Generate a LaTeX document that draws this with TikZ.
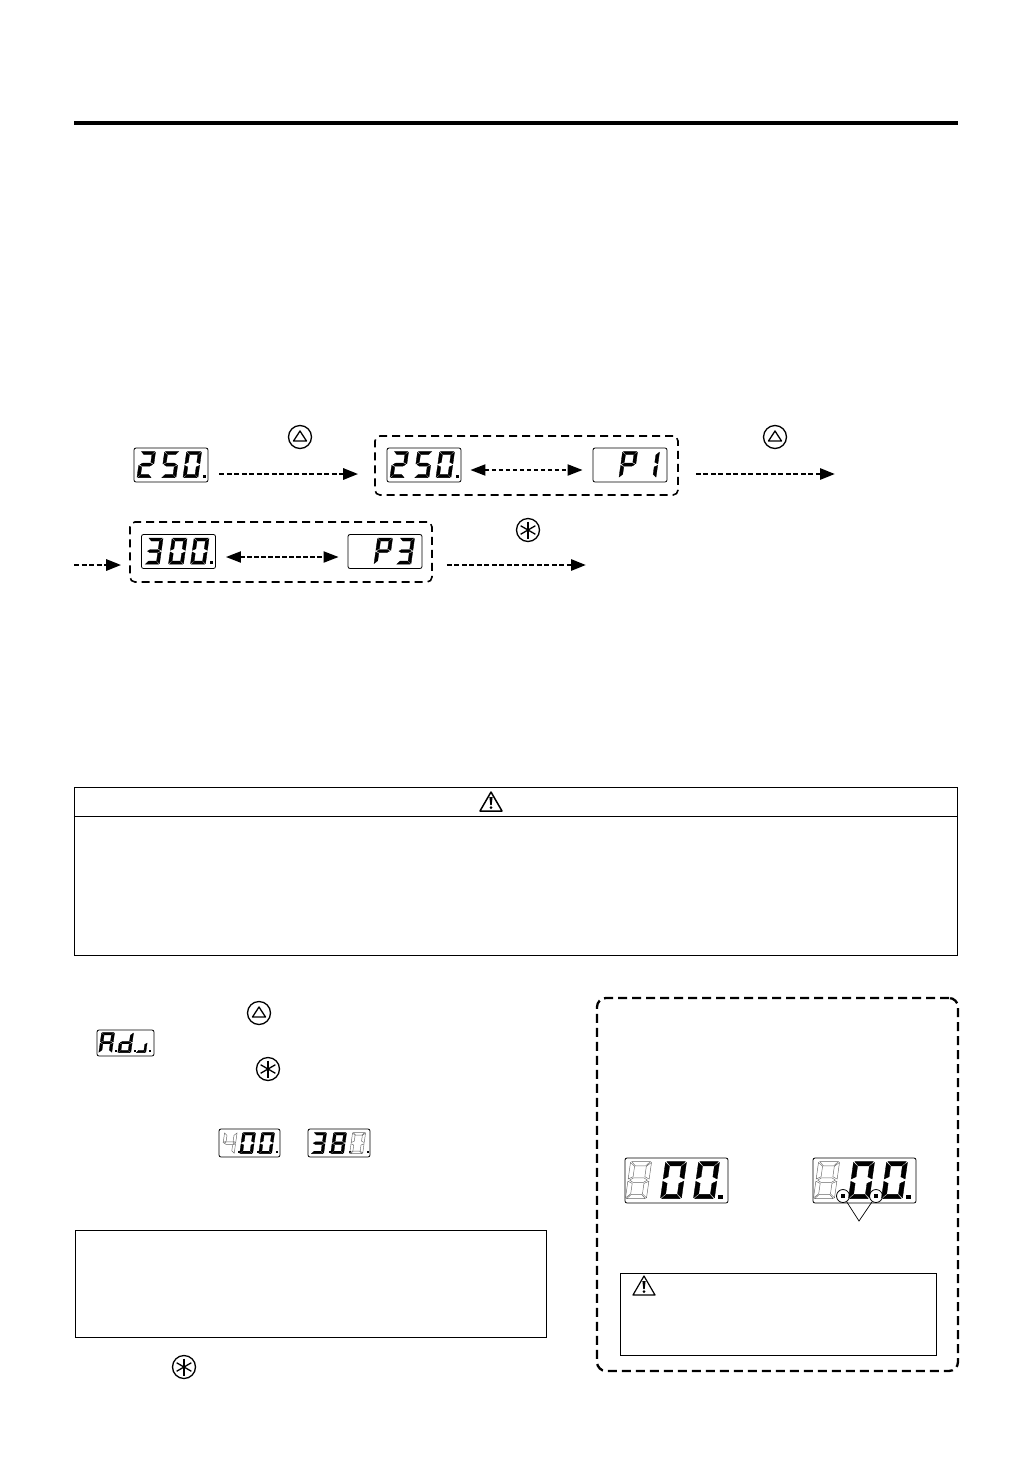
\documentclass[tikz,border=0pt]{standalone}
\usetikzlibrary{arrows.meta,positioning}
\newcommand{\lcdsegA}{(.06,0)--(.94,0)--(.75,.115)--(.25,.115)--cycle}
\newcommand{\lcdsegB}{(1,.02)--(1,.47)--(.78,.41)--(.78,.13)--cycle}
\newcommand{\lcdsegC}{(1,.53)--(1,.98)--(.78,.87)--(.78,.59)--cycle}
\newcommand{\lcdsegD}{(.06,1)--(.94,1)--(.75,.885)--(.25,.885)--cycle}
\newcommand{\lcdsegE}{(0,.53)--(0,.98)--(.22,.87)--(.22,.59)--cycle}
\newcommand{\lcdsegF}{(0,.02)--(0,.47)--(.22,.41)--(.22,.13)--cycle}
\newcommand{\lcdsegG}{(.08,.5)--(.25,.44)--(.75,.44)--(.92,.5)--(.75,.56)--(.25,.56)--cycle}
% node, dx, dy, w, h, lit segments, ghost segments
\newcommand{\lcddigit}[7]{
  \begin{scope}[shift={(#1.north west)},xshift=#2pt,yshift=-#3pt,x={(#4pt,0pt)},y={({-.14*#5pt},{-#5pt})}]
    \foreach \s in {#6} {\filldraw[black,line width=.3pt] \csname lcdseg\s\endcsname;}
    \foreach \s in {#7} {\draw[black!60,line width=.45pt] \csname lcdseg\s\endcsname;}
  \end{scope}
}
% node, dx, dy, size
\newcommand{\lcddot}[4]{
  \fill[black] ([xshift=#2pt,yshift=-#3pt]#1.north west) rectangle +(#4pt,-#4pt);
}
\newcommand{\btnup}[1]{
  \draw[line width=1.3pt,line join=round] ([shift={(0pt,6pt)}]#1.center) -- ([shift={(-6.5pt,-4pt)}]#1.center) -- ([shift={(6.5pt,-4pt)}]#1.center) -- cycle;
}
\newcommand{\btnstar}[1]{
  \foreach \a in {90,30,150} {
    \draw[line width=1.3pt] ([shift={(\a:8.5pt)}]#1.center) -- ([shift={(\a+180:8.5pt)}]#1.center);
  }
}
\newcommand{\warnsign}[2]{
  \draw[line width=#2,line join=round] ([shift={(0pt,10pt)}]#1.center) -- ([shift={(-11pt,-9pt)}]#1.center) -- ([shift={(11pt,-9pt)}]#1.center) -- cycle;
  \fill[black] ([shift={(-1.6pt,5pt)}]#1.center) -- ([shift={(1.6pt,5pt)}]#1.center) -- ([shift={(.7pt,-3pt)}]#1.center) -- ([shift={(-.7pt,-3pt)}]#1.center) -- cycle;
  \fill[black] ([shift={(0pt,-5.5pt)}]#1.center) circle (1.5pt);
}
\begin{document}
\begin{tikzpicture}[
    x=1pt,y=-1pt,
    lcd/.style={draw,line width=.8pt,rounded corners=2pt,inner sep=0pt,minimum width=74pt,minimum height=34pt},
    lcdwide/.style={lcd,minimum width=103pt,minimum height=45pt},
    btn/.style={draw,circle,line width=1.3pt,inner sep=0pt,minimum size=23pt},
    group/.style={draw,line width=1.6pt,dash pattern=on 8pt off 5pt,rounded corners=5pt,inner sep=0pt},
    panel/.style={draw,line width=.9pt,inner sep=0pt},
    flow/.style={-{Triangle[length=15pt,width=11pt]},line width=2.8pt,dash pattern=on 5pt off 2.5pt},
    swap/.style={{Triangle[length=15pt,width=11pt]}-{Triangle[length=15pt,width=11pt]},line width=2pt,dash pattern=on 4.5pt off 2.5pt},
    spot/.style={draw,circle,line width=.8pt,inner sep=0pt,minimum size=13pt},
    warn/.style={inner sep=0pt,minimum size=20pt}
  ]
  \useasboundingbox (0,0) rectangle (1032,1457);
  \fill[black] (74,121) rectangle (958,125);

  % first row
  \node[lcd] (lcdA) at (171,465) {};
  \node[group,minimum width=303pt,minimum height=59pt] (boxA) at (526.5,465.5) {};
  \node[lcd] (lcdB) at (424,465) {};
  \node[lcd] (lcdC) at (630,465) {};
  \node[btn] (btnA) at (300,437) {};
  \node[btn] (btnB) at (775,437) {};
  \btnup{btnA}
  \btnup{btnB}
  \coordinate (outA) at (835,474);
  \draw[flow] ([shift={(11pt,-9pt)}]lcdA.east) -- ([shift={(-16pt,-8.5pt)}]boxA.west);
  \draw[swap] ([shift={(9pt,-5pt)}]lcdB.east) -- ([shift={(-10pt,-5pt)}]lcdC.west);
  \draw[flow] ([shift={(17pt,-8.5pt)}]boxA.east) -- (outA);
  \foreach \n in {lcdA,lcdB} {
    \lcddigit{\n}{7}{4}{15}{26}{A,B,G,E,D}{}
    \lcddigit{\n}{31}{4}{15}{26}{A,F,G,C,D}{}
    \lcddigit{\n}{53}{4}{15}{26}{A,B,C,D,E,F}{}
    \lcddot{\n}{69}{27}{3}
  }
  \lcddigit{lcdC}{30}{4}{15}{26}{A,B,E,F,G}{}
  \lcddigit{lcdC}{52}{4}{15}{26}{B,C}{}

  % second row
  \node[group,minimum width=302pt,minimum height=60pt] (boxB) at (281,552) {};
  \node[lcd] (lcdD) at (178.5,551.5) {};
  \node[lcd] (lcdE) at (385,551.5) {};
  \node[btn] (btnC) at (528,530) {};
  \btnstar{btnC}
  \coordinate (inB) at (74,565);
  \coordinate (outB) at (586,565);
  \draw[flow] (inB) -- ([shift={(-8pt,-13pt)}]boxB.west);
  \draw[swap] ([shift={(10pt,-5.5pt)}]lcdD.east) -- ([shift={(-9pt,-5.5pt)}]lcdE.west);
  \draw[flow] ([shift={(14pt,-13pt)}]boxB.east) -- (outB);
  \lcddigit{lcdD}{7}{4}{15}{26}{A,B,G,C,D}{}
  \lcddigit{lcdD}{31}{4}{15}{26}{A,B,C,D,E,F}{}
  \lcddigit{lcdD}{53}{4}{15}{26}{A,B,C,D,E,F}{}
  \lcddot{lcdD}{69}{27}{3}
  \lcddigit{lcdE}{30}{4}{15}{26}{A,B,E,F,G}{}
  \lcddigit{lcdE}{52}{4}{15}{26}{A,B,G,C,D}{}

  % caution table
  \node[panel,minimum width=883.5pt,minimum height=168pt] (tableA) at (516,871) {};
  \draw[line width=.9pt] (tableA.north west |- 0,816) -- (tableA.north east |- 0,816);
  \node[warn] (warnA) at (491,802) {};
  \warnsign{warnA}{1.5pt}

  % lower left column
  \node[btn] (btnD) at (259,1013) {};
  \btnup{btnD}
  \node[lcd,minimum width=57pt,minimum height=26pt] (lcdF) at (125.5,1043) {};
  \lcddigit{lcdF}{5}{3}{13}{20}{A,B,C,E,F,G}{}
  \lcddot{lcdF}{18}{20}{2.5}
  \lcddigit{lcdF}{24}{3}{13}{20}{B,C,D,E,G}{}
  \lcddot{lcdF}{37}{20}{2.5}
  \lcddigit{lcdF}{42}{3}{10}{20}{C,D}{}
  \lcddot{lcdF}{52}{20}{2.5}
  \node[btn] (btnE) at (268,1069) {};
  \btnstar{btnE}
  \node[lcd,minimum width=61pt,minimum height=28pt] (lcdG) at (249.5,1143) {};
  \node[lcd,minimum width=62pt,minimum height=28pt] (lcdH) at (339,1143) {};
  \lcddigit{lcdG}{6}{4}{12.5}{21}{}{B,C,F,G}
  \lcddot{lcdG}{19}{22}{2.5}
  \lcddigit{lcdG}{24}{4}{13}{21}{A,B,C,D,E,F}{}
  \lcddot{lcdG}{38}{22}{2.5}
  \lcddigit{lcdG}{43}{4}{13}{21}{A,B,C,D,E,F}{}
  \lcddot{lcdG}{57}{22}{2.5}
  \lcddigit{lcdH}{6}{4}{13}{21}{A,B,C,D,G}{}
  \lcddot{lcdH}{21}{22}{2.5}
  \lcddigit{lcdH}{26}{4}{13}{21}{A,B,C,D,E,F,G}{}
  \lcddot{lcdH}{41}{22}{2.5}
  \lcddigit{lcdH}{45}{4}{13}{21}{}{A,B,C,D,E,F}
  \lcddot{lcdH}{59}{22}{2.5}
  \node[panel,minimum width=471.5pt,minimum height=107pt] (boxC) at (311,1283.5) {};
  \node[btn] (btnF) at (184,1367) {};
  \btnstar{btnF}

  % lower right column
  \node[group,line width=2.3pt,dash pattern=on 9pt off 5pt,rounded corners=9pt,minimum width=361pt,minimum height=373pt] (boxD) at (777.5,1184.5) {};
  \node[lcdwide] (lcdI) at (676.5,1180.5) {};
  \node[lcdwide] (lcdJ) at (864.5,1180.5) {};
  \foreach \n in {lcdI,lcdJ} {
    \lcddigit{\n}{6}{4}{21}{37}{}{A,B,C,D,E,F,G}
    \lcddigit{\n}{41}{4}{21}{37}{A,B,C,D,E,F}{}
    \lcddigit{\n}{74}{4}{21}{37}{A,B,C,D,E,F}{}
    \lcddot{\n}{93.5}{37}{4.5}
  }
  \node[spot] (spotA) at (843,1196) {};
  \node[spot] (spotB) at (876,1196) {};
  \fill[black] ([shift={(-2pt,-2pt)}]spotA.center) rectangle +(4pt,4pt);
  \fill[black] ([shift={(-2pt,-2pt)}]spotB.center) rectangle +(4pt,4pt);
  \coordinate (spotTip) at (859,1221);
  \draw[line width=.7pt] (spotA) -- (spotTip) -- (spotB);
  \node[panel,minimum width=316.5pt,minimum height=82pt] (boxE) at (778.5,1314) {};
  \node[warn] (warnB) at (644,1286) {};
  \warnsign{warnB}{1.2pt}
\end{tikzpicture}
\end{document}
